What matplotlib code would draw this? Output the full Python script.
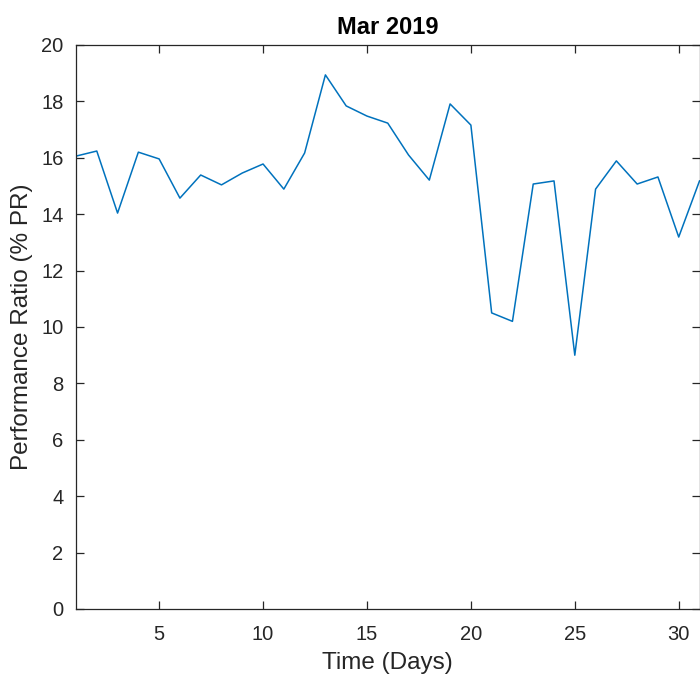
import matplotlib
matplotlib.use("Agg")
import matplotlib.pyplot as plt

days = list(range(1, 32))
pr = [16.06, 16.24, 14.04, 16.2, 15.96, 14.57, 15.39, 15.04, 15.46, 15.78,
      14.89, 16.17, 18.94, 17.84, 17.48, 17.23, 16.1, 15.21, 17.91, 17.16,
      10.5, 10.2, 15.07, 15.18, 9.0, 14.89, 15.89, 15.07, 15.32, 13.19, 15.18]
xticks = [5, 10, 15, 20, 25, 30]
yticks = list(range(0, 21, 2))

plt.rcParams['font.family'] = ['Liberation Sans', 'DejaVu Sans']
fig = plt.figure(figsize=(7.0, 6.77), dpi=100)
ax = fig.add_axes([76/700, 68/677, 623.5/700, 564/677])
ax.plot(days, pr, color='#0072BD', linewidth=1.1)
ax.set_xlim(1, 31)
ax.set_ylim(0, 20)
ax.set_xticks(xticks)
ax.set_yticks(yticks)
c = '#262626'
for s in ax.spines.values():
    s.set_color(c)
    s.set_linewidth(0.9)
ax.tick_params(direction='in', length=6, width=0.9, colors=c, labelsize=14.5,
               top=True, right=True)
ax.tick_params(axis='x', pad=11.5)
ax.tick_params(axis='y', pad=9)
ax.set_xlabel('Time (Days)', fontsize=17.5, color=c, labelpad=6)
ax.set_ylabel('Performance Ratio (% PR)', fontsize=17.5, color=c, labelpad=6)
ax.set_title('Mar 2019', fontsize=17, fontweight='bold', color='black', pad=8)
fig.savefig('out.png', dpi=100)
